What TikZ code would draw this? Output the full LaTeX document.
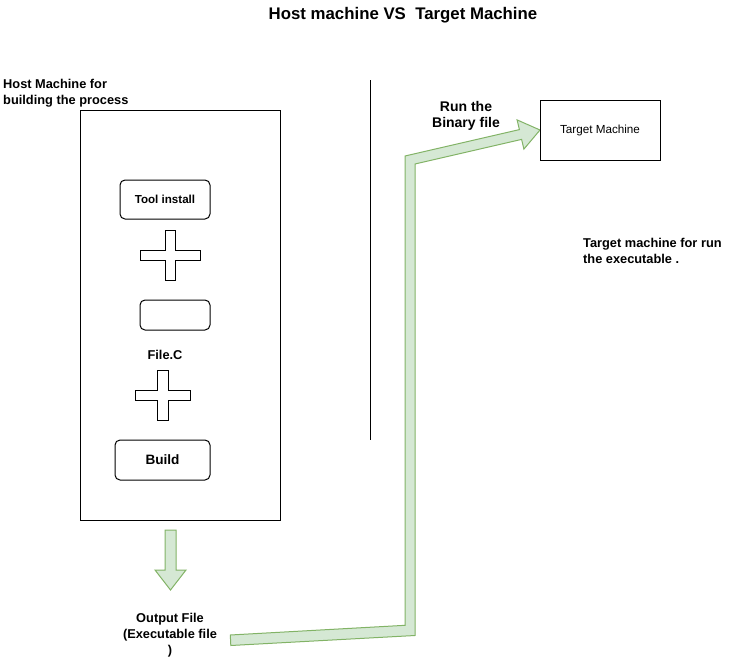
\documentclass[tikz,border=0pt]{standalone}
\usepackage{fontspec}
\setmainfont{Liberation Sans}
\definecolor{arrowfill}{HTML}{D5E8D4}
\definecolor{arrowline}{HTML}{82B366}
\tikzset{
  lbl/.style={font=\bfseries\fontsize{12.8}{16}\selectfont, inner sep=0pt},
  roundbox/.style={draw, rounded corners=5pt, line width=1pt},
  flexarrow/.style={draw=arrowline, fill=arrowfill, line width=1pt, line join=miter},
}
\begin{document}
\begin{tikzpicture}[x=1pt, y=-1pt]
  \useasboundingbox (0,0) rectangle (740,670);

  % Titel
  \node[lbl, font=\bfseries\fontsize{16.8}{20}\selectfont] (title) at (403,15) {Host machine VS\ \ Target Machine};

  % Host-kant
  \node[lbl, anchor=west, align=left] (hostlbl) at (3,93) {Host Machine for\\building the process};
  \draw[line width=1pt] (80,110) rectangle (280,520);
  \node[roundbox, lbl, font=\bfseries\fontsize{11.6}{14}\selectfont, minimum width=90pt, minimum height=39pt] (tool) at (165,199.5) {Tool install};
  \draw[line width=1pt] (165,230) -- (175,230) -- (175,250) -- (200,250) -- (200,260) -- (175,260)
    -- (175,280) -- (165,280) -- (165,260) -- (140,260) -- (140,250) -- (165,250) -- cycle;
  \node[roundbox, minimum width=70pt, minimum height=30pt] (file) at (175,315) {};
  \node[lbl] (filelbl) at (165,355) {File.C};
  \draw[line width=1pt] (157.5,370) -- (168,370) -- (168,390) -- (190,390) -- (190,400) -- (168,400)
    -- (168,420) -- (157.5,420) -- (157.5,400) -- (135,400) -- (135,390) -- (157.5,390) -- cycle;
  \node[roundbox, lbl, font=\bfseries\fontsize{13.6}{16}\selectfont, minimum width=95pt, minimum height=40pt] (build) at (162.5,460) {Build};

  % Scheidingslijn
  \coordinate (sepT) at (370,80);
  \coordinate (sepB) at (370,440);
  \draw[line width=1pt] (sepT) -- (sepB);

  % Uitvoer
  \draw[flexarrow] (165,530) -- (176,530) -- (176,570) -- (186,570) -- (170.5,590) -- (155,570) -- (165,570) -- cycle;
  \node[lbl, align=center] (output) at (170,635) {Output File\\(Executable file\\)};

  % Pijl naar target
  \draw[flexarrow] (230.8,645.5) -- (415,635.5) -- (415,164) -- (521.6,139.4) -- (523.9,149.1)
    -- (540,130) -- (517.1,119.9) -- (519.4,129.6) -- (405,156) -- (405,625.3) -- (230.3,635) -- cycle;
  \node[lbl, font=\bfseries\fontsize{14}{16}\selectfont, align=center] (runlbl) at (466,115.5) {Run the\\Binary file};

  % Target-kant
  \node[draw, line width=1pt, minimum width=120pt, minimum height=60pt, font=\fontsize{11.7}{14}\selectfont] (target) at (600,130) {Target Machine};
  \node[lbl, anchor=west, align=left] (targetlbl) at (583,251) {Target machine for run\\the executable .};
\end{tikzpicture}
\end{document}
